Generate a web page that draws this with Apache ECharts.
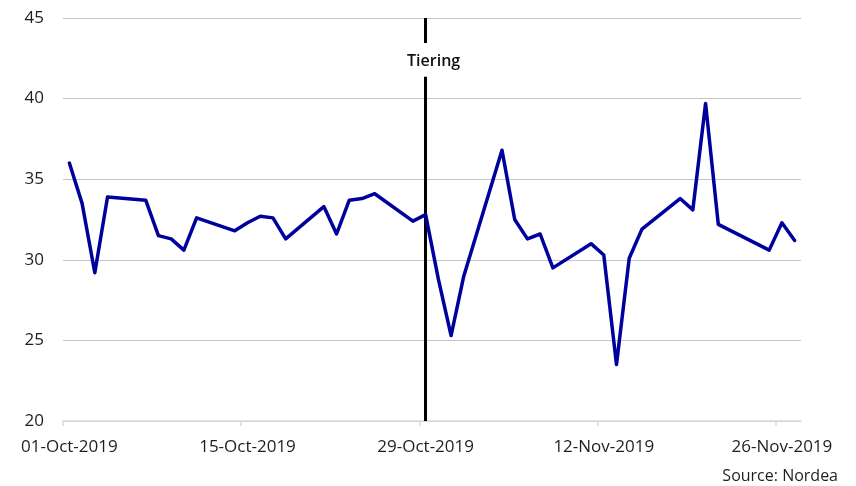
<!DOCTYPE html>
<html>
<head>
<meta charset="utf-8">
<script src="https://cdn.jsdelivr.net/npm/echarts@6/dist/echarts.min.js"></script>
<style>
  html, body { margin: 0; padding: 0; background: #fff; }
  #chart { width: 856px; height: 486px; }
</style>
</head>
<body>
<div id="chart"></div>
<script>
// 交易日（周末及缺失日不画点）
const dates = [
  '2019-10-01', '2019-10-02', '2019-10-03', '2019-10-04',
  '2019-10-07', '2019-10-08', '2019-10-09', '2019-10-10', '2019-10-11',
  '2019-10-14', '2019-10-15', '2019-10-16', '2019-10-17', '2019-10-18',
  '2019-10-21', '2019-10-22', '2019-10-23', '2019-10-24', '2019-10-25',
  '2019-10-28', '2019-10-29', '2019-10-30', '2019-10-31', '2019-11-01',
  '2019-11-04', '2019-11-05', '2019-11-06', '2019-11-07', '2019-11-08',
  '2019-11-11', '2019-11-12', '2019-11-13', '2019-11-14', '2019-11-15',
  '2019-11-18', '2019-11-19', '2019-11-20', '2019-11-21',
  '2019-11-25', '2019-11-26', '2019-11-27',
];
const values = [
  36.0, 33.5, 29.2, 33.9,
  33.7, 31.5, 31.3, 30.6, 32.6,
  31.8, 32.3, 32.7, 32.6, 31.3,
  33.3, 31.6, 33.7, 33.8, 34.1,
  32.4, 32.8, 28.8, 25.3, 29.0,
  36.8, 32.5, 31.3, 31.6, 29.5,
  31.0, 30.3, 23.5, 30.1, 31.9,
  33.8, 33.1, 39.7, 32.2,
  30.6, 32.3, 31.2,
];

// 坐标轴刻度
const axisStart = '2019-10-01';
const axisEnd = '2019-11-28';
const tickDates = ['2019-10-01', '2019-10-15', '2019-10-29', '2019-11-12', '2019-11-26'];
const tickLabels = ['01-Oct-2019', '15-Oct-2019', '29-Oct-2019', '12-Nov-2019', '26-Nov-2019'];

// 事件标记
const eventDate = '2019-10-29';
const eventLabel = 'Tiering';
const sourceText = 'Source: Nordea';

const DAY = 86400000;
const dayIndex = d => (Date.parse(d) - Date.parse(axisStart)) / DAY;

// 每个点画在当天的中间
const points = dates.map((d, i) => [dayIndex(d) + 0.5, values[i]]);
const tickDays = tickDates.map(dayIndex);
const labelDays = tickDays.map(v => v + 0.5);
const eventX = dayIndex(eventDate) + 0.5;

const FONT = '"Open Sans", "Liberation Sans", sans-serif';
const TEXT = '#1e1e1e';

const chart = echarts.init(document.getElementById('chart'), null, { renderer: 'canvas' });

chart.setOption({
  backgroundColor: '#fff',
  animation: false,
  title: {
    text: sourceText,
    right: 18,
    top: 468,
    padding: 0,
    textStyle: { fontFamily: FONT, fontSize: 16, fontWeight: 'normal', color: TEXT },
  },
  grid: { left: 63, right: 55, top: 18, bottom: 65 },
  xAxis: {
    type: 'value',
    min: 0,
    max: dayIndex(axisEnd),
    splitLine: { show: false },
    axisLine: { show: true, lineStyle: { color: '#d9d9d9', width: 1.5 } },
    axisTick: {
      show: true,
      length: 5,
      customValues: tickDays,
      lineStyle: { color: '#d9d9d9', width: 1.5 },
    },
    axisLabel: {
      customValues: labelDays,
      margin: 18,
      fontFamily: FONT,
      fontSize: 17,
      color: TEXT,
      formatter: v => {
        const i = labelDays.indexOf(v);
        return i >= 0 ? tickLabels[i] : '';
      },
    },
  },
  yAxis: {
    type: 'value',
    min: 20,
    max: 45,
    interval: 5,
    axisLine: { show: false },
    axisTick: { show: false },
    splitLine: { lineStyle: { color: '#c4c4c4', width: 1.2 } },
    axisLabel: { margin: 19, fontFamily: FONT, fontSize: 17, color: TEXT },
  },
  series: [{
    type: 'line',
    data: points,
    showSymbol: false,
    z: 3,
    lineStyle: { color: '#00009c', width: 3.5, join: 'round', cap: 'round' },
    itemStyle: { color: '#00009c' },
    markLine: {
      silent: true,
      symbol: 'none',
      z: 2,
      lineStyle: { color: '#000', width: 3, type: 'solid' },
      label: { show: false },
      data: [
        [{ coord: [eventX, 45] }, { coord: [eventX, 43.45] }],
        [{ coord: [eventX, 41.35] }, { coord: [eventX, 20] }],
      ],
    },
    markPoint: {
      silent: true,
      symbol: 'circle',
      symbolSize: 0,
      label: {
        show: true,
        position: 'inside',
        offset: [8, 2],
        formatter: eventLabel,
        fontFamily: FONT,
        fontSize: 16,
        fontWeight: 600,
        color: '#111',
      },
      data: [{ coord: [eventX, 42.4] }],
    },
  }],
});

window.addEventListener('resize', () => chart.resize());
</script>
</body>
</html>
